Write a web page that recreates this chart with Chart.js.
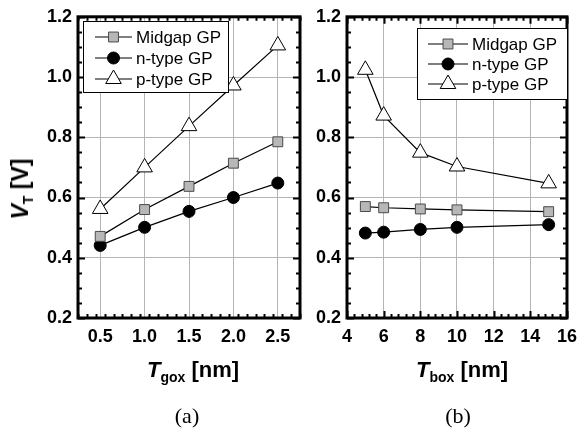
<!DOCTYPE html>
<html>
<head>
<meta charset="utf-8">
<script src="https://cdn.jsdelivr.net/npm/chart.js@4.4.1/dist/chart.umd.min.js"></script>
<style>
  body { margin: 0; width: 585px; height: 431px; background: #fff; position: relative; overflow: hidden;
         font-family: "Liberation Sans", Arial, sans-serif; }
  canvas { position: absolute; top: 0; }
  #cA { left: 0; }
  #cB { left: 310px; }
  .lab { position: absolute; white-space: nowrap; transform: translate(-50%, -50%); line-height: 1; }
  .ttl { font-weight: bold; font-size: 22px; }
  .ttl i { font-style: italic; }
  .ttl sub { font-size: 14px; vertical-align: -5px; }
  .pan { font-family: "Liberation Serif", "Times New Roman", serif; font-size: 22px; }
  #yt { transform: translate(-50%, -50%) rotate(-90deg); font-size: 23px; }
</style>
</head>
<body>
<canvas id="cA" width="310" height="431"></canvas>
<canvas id="cB" width="275" height="431"></canvas>
<div class="lab ttl" id="yt" style="left:22px;top:189px"><i>V</i><sub>T</sub> [V]</div>
<div class="lab ttl" style="left:193px;top:371px"><i>T</i><sub>gox</sub> [nm]</div>
<div class="lab ttl" style="left:462px;top:371px"><i>T</i><sub>box</sub> [nm]</div>
<div class="lab pan" style="left:187px;top:416px">(a)</div>
<div class="lab pan" style="left:458px;top:416px">(b)</div>
<script>
// panel (a): gate oxide thickness
const tgox = [0.5, 1.0, 1.5, 2.0, 2.5];
const midgapA = [0.471, 0.560, 0.637, 0.714, 0.785];
const ntypeA = [0.441, 0.501, 0.554, 0.600, 0.648];
const ptypeA = [0.562, 0.700, 0.837, 0.972, 1.105];

// panel (b): buried oxide thickness
const tbox = [5, 6, 8, 10, 15];
const midgapB = [0.570, 0.566, 0.562, 0.559, 0.553];
const ntypeB = [0.482, 0.485, 0.494, 0.501, 0.510];
const ptypeB = [1.024, 0.872, 0.749, 0.703, 0.647];

const xTicksA = [0.5, 1.0, 1.5, 2.0, 2.5];
const xTicksB = [4, 6, 8, 10, 12, 14, 16];
const yTicks = [0.2, 0.4, 0.6, 0.8, 1.0, 1.2];
const seriesNames = ['Midgap GP', 'n-type GP', 'p-type GP'];

const tickFont = { family: '"Liberation Sans", Arial, sans-serif', size: 18, weight: 'bold' };

function pts(xs, ys) {
  return xs.map((x, i) => ({ x: x, y: ys[i] }));
}

function makeSets(xs, mid, n, p) {
  return [
    {
      label: seriesNames[0], data: pts(xs, mid),
      borderColor: '#000', borderWidth: 1.2,
      pointStyle: 'rect', pointRadius: 7, pointHoverRadius: 7,
      pointBackgroundColor: '#b7b7b7', pointBorderColor: '#4a4a4a', pointBorderWidth: 1
    },
    {
      label: seriesNames[1], data: pts(xs, n),
      borderColor: '#000', borderWidth: 1.2,
      pointStyle: 'circle', pointRadius: 6, pointHoverRadius: 6,
      pointBackgroundColor: '#000', pointBorderColor: '#000', pointBorderWidth: 1
    },
    {
      label: seriesNames[2], data: pts(xs, p),
      borderColor: '#000', borderWidth: 1.2,
      pointStyle: 'triangle', pointRadius: 9, pointHoverRadius: 9,
      pointBackgroundColor: '#fff', pointBorderColor: '#000', pointBorderWidth: 1
    }
  ];
}

// frame with inward major and minor ticks on all four sides
const frameTicks = {
  id: 'frameTicks',
  afterDraw(chart, args, opts) {
    const ctx = chart.ctx;
    const a = chart.chartArea;
    const xs = chart.scales.x, ys = chart.scales.y;
    ctx.save();
    ctx.strokeStyle = '#000';
    ctx.lineWidth = 2;
    ctx.beginPath();
    const nx = Math.round((xs.max - xs.min) / opts.xMinor);
    for (let i = 0; i <= nx; i++) {
      const v = xs.min + i * opts.xMinor;
      const major = opts.xMajor.some(t => Math.abs(t - v) < 1e-6);
      const len = major ? 7 : 4;
      const px = Math.round(xs.getPixelForValue(v)) + 0.5;
      ctx.moveTo(px, a.bottom); ctx.lineTo(px, a.bottom - len);
      ctx.moveTo(px, a.top); ctx.lineTo(px, a.top + len);
    }
    const ny = Math.round((ys.max - ys.min) / opts.yMinor);
    for (let i = 0; i <= ny; i++) {
      const v = ys.min + i * opts.yMinor;
      const major = yTicks.some(t => Math.abs(t - v) < 1e-6);
      const len = major ? 7 : 4;
      const py = Math.round(ys.getPixelForValue(v)) + 0.5;
      ctx.moveTo(a.left, py); ctx.lineTo(a.left + len, py);
      ctx.moveTo(a.right, py); ctx.lineTo(a.right - len, py);
    }
    ctx.stroke();
    ctx.lineWidth = 3;
    ctx.strokeRect(a.left, a.top, a.right - a.left, a.bottom - a.top);
    ctx.restore();
  }
};

// boxed legend with line-marker-line samples
const boxLegend = {
  id: 'boxLegend',
  afterDraw(chart, args, opts) {
    const ctx = chart.ctx;
    const b = opts.box;
    ctx.save();
    ctx.fillStyle = '#fff';
    ctx.fillRect(b[0], b[1], b[2], b[3]);
    ctx.strokeStyle = '#000';
    ctx.lineWidth = 1;
    ctx.strokeRect(b[0] + 0.5, b[1] + 0.5, b[2], b[3]);
    chart.data.datasets.forEach((ds, i) => {
      const ry = opts.rows[i];
      ctx.strokeStyle = '#000';
      ctx.lineWidth = 1.2;
      ctx.beginPath();
      ctx.moveTo(opts.x0, ry); ctx.lineTo(opts.x1, ry);
      ctx.stroke();
      ctx.fillStyle = ds.pointBackgroundColor;
      ctx.strokeStyle = ds.pointBorderColor;
      ctx.lineWidth = ds.pointBorderWidth;
      Chart.helpers.drawPoint(ctx, {
        pointStyle: ds.pointStyle, radius: ds.pointRadius, rotation: 0, borderWidth: ds.pointBorderWidth
      }, (opts.x0 + opts.x1) / 2, ry);
      ctx.fillStyle = '#000';
      ctx.font = '17px "Liberation Sans", Arial, sans-serif';
      ctx.textBaseline = 'middle';
      ctx.textAlign = 'left';
      ctx.fillText(ds.label, opts.tx, ry + 1);
    });
    ctx.restore();
  }
};

function makeChart(id, sets, xMin, xMax, xMajor, xMinor, yWidth, padRight, legend) {
  return new Chart(document.getElementById(id), {
    type: 'line',
    data: { datasets: sets },
    options: {
      responsive: false,
      animation: false,
      events: [],
      layout: { padding: { left: 0, right: padRight, top: 15, bottom: 431 - 318 - 30 } },
      plugins: {
        legend: { display: false },
        tooltip: { enabled: false },
        frameTicks: { xMajor: xMajor, xMinor: xMinor, yMinor: 0.05 },
        boxLegend: legend
      },
      scales: {
        x: {
          type: 'linear', min: xMin, max: xMax,
          afterBuildTicks: s => { s.ticks = xMajor.map(v => ({ value: v })); },
          afterFit: s => { s.height = 30; },
          grid: { color: '#b5b5b5', lineWidth: 1, drawTicks: false },
          border: { display: false },
          ticks: {
            font: tickFont, color: '#000', padding: 8, maxRotation: 0,
            callback: v => (xMax < 5 ? v.toFixed(1) : String(v))
          }
        },
        y: {
          type: 'linear', min: 0.2, max: 1.2,
          afterBuildTicks: s => { s.ticks = yTicks.map(v => ({ value: v })); },
          afterFit: s => { s.width = yWidth; },
          grid: { color: '#b5b5b5', lineWidth: 1, drawTicks: false },
          border: { display: false },
          ticks: { font: tickFont, color: '#000', padding: 6, callback: v => v.toFixed(1) }
        }
      }
    },
    plugins: [frameTicks, boxLegend]
  });
}

makeChart('cA', makeSets(tgox, midgapA, ntypeA, ptypeA), 0.25, 2.75, xTicksA, 0.1, 78, 5,
  { box: [83, 21, 145, 71], rows: [37, 58, 79], x0: 95, x1: 132, tx: 136 });
makeChart('cB', makeSets(tbox, midgapB, ntypeB, ptypeB), 4, 16, xTicksB, 0.4, 37, 10,
  { box: [107, 28, 150, 71], rows: [44, 64, 84], x0: 118, x1: 158, tx: 162 });
</script>
</body>
</html>
